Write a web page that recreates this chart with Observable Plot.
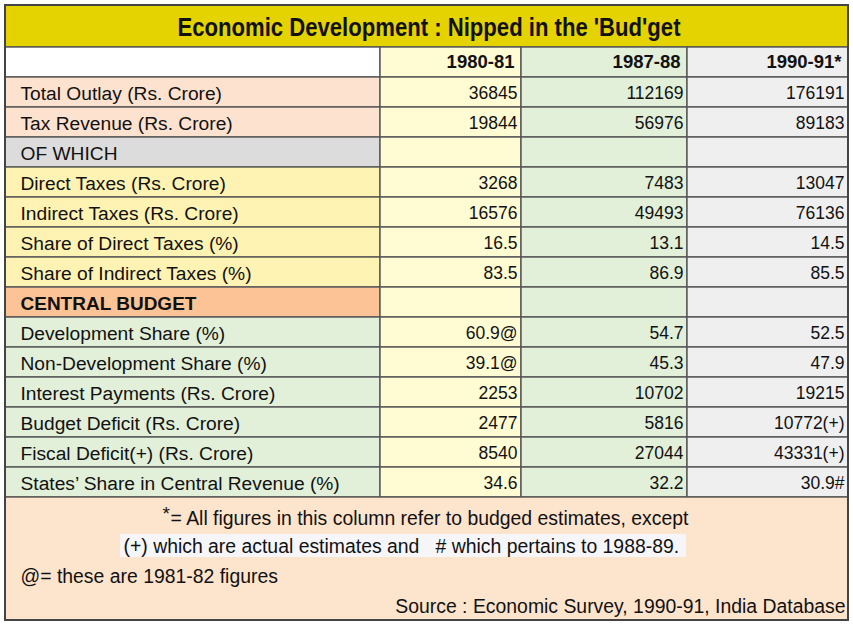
<!DOCTYPE html>
<html><head><meta charset="utf-8">
<script src="https://cdn.jsdelivr.net/npm/d3@7"></script>
<script src="https://cdn.jsdelivr.net/npm/@observablehq/plot@0.6"></script>
<style>body{margin:0;background:#fff;overflow:hidden}</style>
</head><body><div id="chart"></div>
<script>
// ---- Data ----
const title = "Economic Development : Nipped in the 'Bud'get";
const years = ["1980-81", "1987-88", "1990-91*"];
const rowLabels = [
  "Total Outlay (Rs. Crore)",
  "Tax Revenue (Rs. Crore)",
  "OF WHICH",
  "Direct Taxes (Rs. Crore)",
  "Indirect Taxes (Rs. Crore)",
  "Share of Direct Taxes (%)",
  "Share of Indirect Taxes (%)",
  "CENTRAL BUDGET",
  "Development Share (%)",
  "Non-Development Share (%)",
  "Interest Payments (Rs. Crore)",
  "Budget Deficit (Rs. Crore)",
  "Fiscal Deficit(+) (Rs. Crore)",
  "States\u2019 Share in Central Revenue (%)"
];
const rowGroups = ["outlay","outlay","ofwhich","tax","tax","tax","tax","central","budget","budget","budget","budget","budget","budget"];
const v1980 = ["36845","19844","","3268","16576","16.5","83.5","","60.9@","39.1@","2253","2477","8540","34.6"];
const v1987 = ["112169","56976","","7483","49493","13.1","86.9","","54.7","45.3","10702","5816","27044","32.2"];
const v1990 = ["176191","89183","","13047","76136","14.5","85.5","","52.5","47.9","19215","10772(+)","43331(+)","30.9#"];
const notes = [
  "= All figures in this column refer to budged estimates, except",
  "(+) which are actual estimates and   # which pertains to 1988-89.",
  "@= these are 1981-82 figures",
  "Source : Economic Survey, 1990-91, India Database"
];
const noteStar = "*";

// ---- Layout & style ----
const colEdges = [5, 380, 521, 687, 848];
const titleTop = 5, headerTop = 47, bodyTop = 77, rowH = 30, footerBottom = 620;
const footerTop = bodyTop + rowH * rowLabels.length;
const groupFill = {outlay: "#fde3cf", ofwhich: "#dcdcdc", tax: "#fff3b3", central: "#fcc496", budget: "#e2efd9"};
const colFill = ["#fffbd3", "#e2efd9", "#efefef"];
const valueCols = [v1980, v1987, v1990];
const font = "'Liberation Sans', Arial, Helvetica, sans-serif";

const cells = [];
cells.push({x1: colEdges[0], x2: colEdges[4], y1: titleTop, y2: headerTop, fill: "#e5d300"});
cells.push({x1: colEdges[0], x2: colEdges[1], y1: headerTop, y2: bodyTop, fill: "#ffffff"});
years.forEach((yr, j) => cells.push({x1: colEdges[j+1], x2: colEdges[j+2], y1: headerTop, y2: bodyTop, fill: colFill[j]}));
rowLabels.forEach((lab, i) => {
  const y1 = bodyTop + i * rowH, y2 = y1 + rowH;
  cells.push({x1: colEdges[0], x2: colEdges[1], y1, y2, fill: groupFill[rowGroups[i]]});
  valueCols.forEach((vals, j) => cells.push({x1: colEdges[j+1], x2: colEdges[j+2], y1, y2, fill: colFill[j]}));
});
cells.push({x1: colEdges[0], x2: colEdges[4], y1: footerTop, y2: footerBottom, fill: "#fde4cd"});

const labelTexts = rowLabels.map((lab, i) => ({x: colEdges[0] + 15, y: bodyTop + i*rowH + rowH/2 + 1, text: lab, bold: rowGroups[i] === "central"}));
const valueTexts = [];
valueCols.forEach((vals, j) => vals.forEach((v, i) => {
  if (v) valueTexts.push({x: colEdges[j+2] - 4, y: bodyTop + i*rowH + rowH/2 + 1, text: v});
}));
const headerTexts = years.map((yr, j) => ({x: colEdges[j+2] - 7, y: headerTop + 15, text: yr}));

const noteStart = [
  {x: 170, y: footerTop + 21, text: notes[0]},
  {x: 123, y: footerTop + 49, text: notes[1]},
  {x: 20, y: footerTop + 79, text: notes[2]}
];
const noteEnd = [{x: colEdges[4] - 3, y: footerTop + 109, text: notes[3]}];
const starNote = [{x: 162, y: footerTop + 16, text: noteStar}];
const highlight = [{x1: 120, x2: 686, y1: footerTop + 37, y2: footerTop + 60}];

const chart = Plot.plot({
  width: 853, height: 625, margin: 0,
  x: {domain: [0, 853], range: [0, 853], axis: null},
  y: {domain: [0, 625], range: [0, 625], axis: null},
  color: {type: "identity"},
  style: {fontFamily: font, background: "#ffffff"},
  marks: [
    Plot.rect(cells, {x1: "x1", x2: "x2", y1: "y1", y2: "y2", fill: "fill", stroke: "#555", strokeWidth: 1.4}),
    Plot.rect(highlight, {x1: "x1", x2: "x2", y1: "y1", y2: "y2", fill: "#f6f6f9"}),
    Plot.rect([{x1: colEdges[0], x2: colEdges[4], y1: titleTop, y2: footerBottom}], {x1: "x1", x2: "x2", y1: "y1", y2: "y2", fill: "none", stroke: "#444", strokeWidth: 2}),
    Plot.text([{x: (colEdges[0] + colEdges[4]) / 2 + 2, y: (titleTop + headerTop) / 2 + 1, text: title}], {x: "x", y: "y", text: "text", fontSize: 25, fontWeight: "bold", fill: "#111"}),
    Plot.text(headerTexts, {x: "x", y: "y", text: "text", textAnchor: "end", fontSize: 18.5, fontWeight: "bold", fill: "#111"}),
    Plot.text(labelTexts.filter(d => !d.bold), {x: "x", y: "y", text: "text", textAnchor: "start", fontSize: 19.2, fill: "#111"}),
    Plot.text(labelTexts.filter(d => d.bold), {x: "x", y: "y", text: "text", textAnchor: "start", fontSize: 19, fontWeight: "bold", fill: "#111"}),
    Plot.text(valueTexts, {x: "x", y: "y", text: "text", textAnchor: "end", fontSize: 17.5, fill: "#111"}),
    Plot.text(starNote, {x: "x", y: "y", text: "text", textAnchor: "start", fontSize: 19, fill: "#111"}),
    Plot.text(noteStart, {x: "x", y: "y", text: "text", textAnchor: "start", fontSize: 19.4, fill: "#111"}),
    Plot.text(noteEnd, {x: "x", y: "y", text: "text", textAnchor: "end", fontSize: 19.4, fill: "#111"})
  ]
});
// condense the title to the reference's narrow width
d3.select(chart).selectAll("text").filter(function() { return this.textContent === title; })
  .attr("textLength", 503).attr("lengthAdjust", "spacingAndGlyphs");
document.getElementById("chart").appendChild(chart);
</script>
</body></html>
